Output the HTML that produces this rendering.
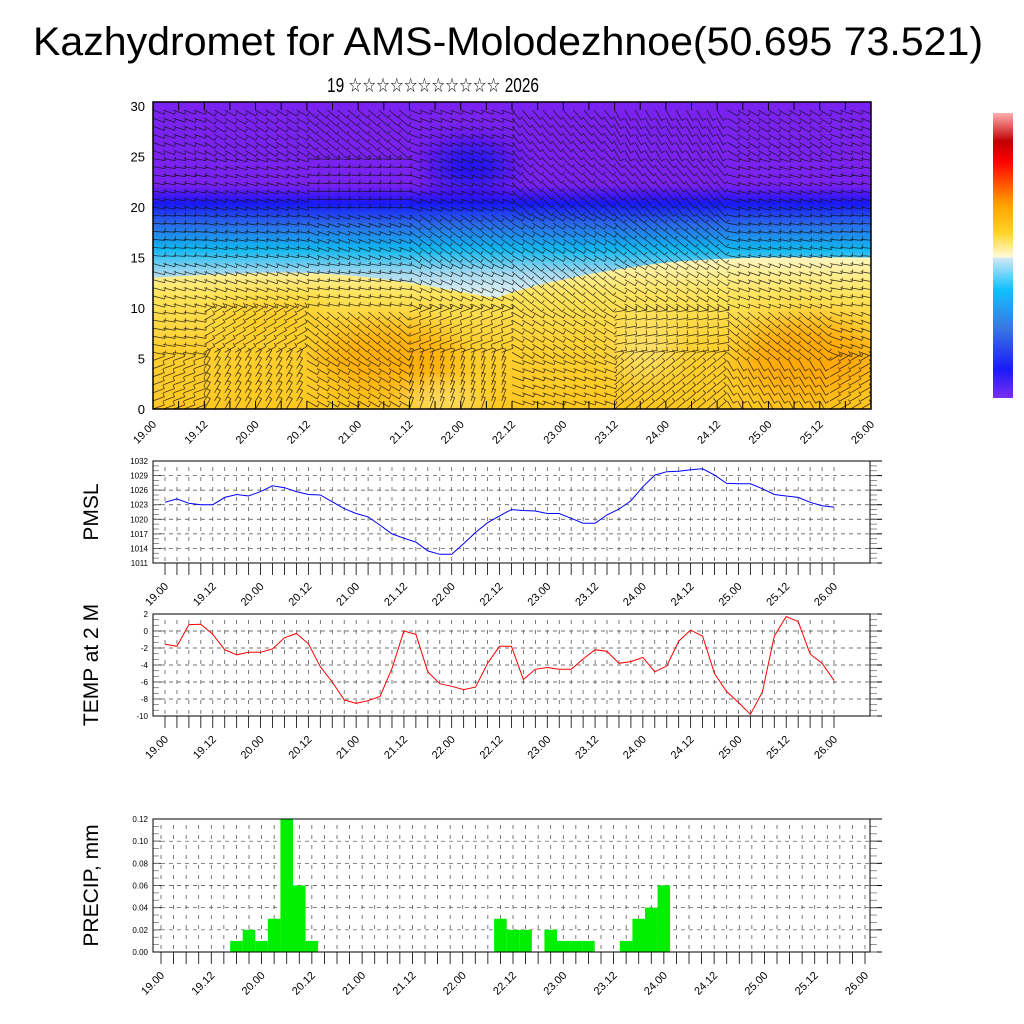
<!DOCTYPE html>
<html><head><meta charset="utf-8"><style>
html,body{margin:0;padding:0;background:#fff;}
svg{display:block;font-family:"Liberation Sans","DejaVu Sans",sans-serif;}
</style></head><body>
<svg id="chart" width="1024" height="1024" viewBox="0 0 1024 1024" xmlns="http://www.w3.org/2000/svg">
<defs>
<linearGradient id="vgrad" x1="0" y1="0" x2="0" y2="1">
<stop offset="0" stop-color="#7a22f0"/><stop offset="0.27" stop-color="#7a22f0"/>
<stop offset="0.30" stop-color="#4a18f8"/><stop offset="0.33" stop-color="#1818f8"/>
<stop offset="0.40" stop-color="#2a6ce8"/><stop offset="0.48" stop-color="#10b8f0"/>
<stop offset="0.56" stop-color="#a8daf0"/><stop offset="0.62" stop-color="#dcefef"/>
<stop offset="1" stop-color="#dcefef"/></linearGradient>
<linearGradient id="wgrad" x1="0" y1="0" x2="0" y2="1">
<stop offset="0" stop-color="#fff6c0"/><stop offset="0.25" stop-color="#ffe45a"/>
<stop offset="0.6" stop-color="#ffd030"/><stop offset="1" stop-color="#ffc820"/></linearGradient>
<linearGradient id="cbgrad" x1="0" y1="1" x2="0" y2="0">
<stop offset="0" stop-color="#7a2ff0"/><stop offset="0.1" stop-color="#1a1af8"/>
<stop offset="0.25" stop-color="#3a7ae0"/><stop offset="0.38" stop-color="#10c0ff"/>
<stop offset="0.49" stop-color="#d0e8f4"/><stop offset="0.495" stop-color="#fffbd8"/>
<stop offset="0.58" stop-color="#ffd428"/><stop offset="0.68" stop-color="#ffa000"/>
<stop offset="0.77" stop-color="#ff4000"/><stop offset="0.83" stop-color="#ff0000"/>
<stop offset="0.9" stop-color="#c00000"/><stop offset="1" stop-color="#ffb0b0"/></linearGradient>
<filter id="blur" x="-50%" y="-50%" width="200%" height="200%"><feGaussianBlur stdDeviation="14"/></filter>
<clipPath id="topclip"><rect x="153" y="102" width="718" height="307"/></clipPath>
</defs>
<text x="33" y="55" font-size="40" textLength="950" lengthAdjust="spacingAndGlyphs">Kazhydromet for AMS-Molodezhnoe(50.695 73.521)</text>
<text x="327" y="92" font-size="20" textLength="212" lengthAdjust="spacingAndGlyphs">19 ☆☆☆☆☆☆☆☆☆☆☆ 2026</text>
<g id="topsec"></g>
<rect x="993" y="113" width="20" height="285" fill="url(#cbgrad)"/>
<g id="panels"></g>
</svg>
<script>
const NS="http://www.w3.org/2000/svg";
const svg=document.getElementById('chart');
const pmslValues=[1023.5,1024.2,1023.3,1023,1023,1024.5,1025.1,1024.8,1025.7,1026.9,1026.5,1025.7,1025.1,1025,1023.6,1022.2,1021.2,1020.5,1018.8,1017,1016.1,1015.3,1013.5,1012.8,1012.8,1015,1017.3,1019.3,1020.7,1022,1021.8,1021.7,1021.2,1021.2,1020.2,1019.2,1019.2,1020.9,1022.1,1023.8,1026.7,1029.1,1029.8,1029.9,1030.2,1030.4,1029.1,1027.4,1027.3,1027.3,1026.3,1025.1,1024.8,1024.5,1023.5,1022.8,1022.5];
const tempValues=[-1.55,-1.8,0.75,0.8,-0.4,-2.2,-2.8,-2.5,-2.5,-2.1,-0.8,-0.3,-1.5,-4.2,-6,-8.1,-8.5,-8.2,-7.7,-4.4,0,-0.4,-4.8,-6.2,-6.5,-6.9,-6.6,-3.8,-1.8,-1.8,-5.7,-4.5,-4.3,-4.5,-4.5,-3.3,-2.2,-2.4,-3.8,-3.6,-3.1,-4.8,-4.1,-1.2,0.1,-0.6,-5,-7.1,-8.4,-9.8,-7.2,-0.6,1.7,1.1,-2.7,-3.8,-5.8];
const precipValues=[0,0,0,0,0,0,0.01,0.02,0.01,0.03,0.12,0.06,0.01,0,0,0,0,0,0,0,0,0,0,0,0,0,0,0.03,0.02,0.02,0,0.02,0.01,0.01,0.01,0,0,0.01,0.03,0.04,0.06,0,0,0,0,0,0,0,0,0,0,0,0,0,0,0,0];
const timeLabels=["19.00","19.12","20.00","20.12","21.00","21.12","22.00","22.12","23.00","23.12","24.00","24.12","25.00","25.12","26.00"];
const pmslTicks=[1011,1014,1017,1020,1023,1026,1029,1032];
const tempTicks=[-10,-8,-6,-4,-2,0,2];
const precipTicks=[0,0.02,0.04,0.06,0.08,0.1,0.12];
const heightTicks=[0,5,10,15,20,25,30];
// wind direction (deg) by height band (rows 0..30 km, step 5) x day (19..26)
const windDir=[[20,60,-30,70,-20,40,-60,30],[-10,30,-40,20,-30,10,-40,-20],[-15,-20,-10,-25,-40,-30,-20,-10],[-5,-10,-20,-35,-30,-40,-10,-5],[-10,-15,-5,-20,-45,-50,-15,-10],[-20,-30,-40,-20,-50,-60,-30,-20],[-60,-55,-50,-65,-60,-55,-50,-60]];

function mk(tag,attrs,parent){const e=document.createElementNS(NS,tag);for(const k in attrs)e.setAttribute(k,attrs[k]);(parent||svg).appendChild(e);return e;}

// ---- top section ----
const topG=document.getElementById('topsec');
const TX0=153,TX1=871,TY0=102,TY1=409;
const hy=h=>TY1-(h/30.4)*(TY1-TY0);
const tdx=d=>TX0+d/7*(TX1-TX0);
const tg=mk('g',{'clip-path':'url(#topclip)'},topG);
mk('rect',{x:TX0,y:TY0,width:TX1-TX0,height:TY1-TY0,fill:'url(#vgrad)'},tg);
mk('path',{d:`M${TX0},${hy(13)} C${tdx(1)},${hy(13.5)} ${tdx(1.5)},${hy(14)} ${tdx(2.5)},${hy(12.5)} C${tdx(2.8)},${hy(12)} ${tdx(3.3)},${hy(11)} ${tdx(3.35)},${hy(11)} C${tdx(3.6)},${hy(12)} ${tdx(4.2)},${hy(13.5)} ${tdx(5)},${hy(14.5)} C${tdx(5.8)},${hy(15.2)} ${tdx(6.5)},${hy(15)} ${TX1},${hy(15)} L${TX1},${TY1} L${TX0},${TY1} Z`,fill:'url(#wgrad)'},tg);
const blobs=[[2.3,5,70,35,'#ffa800',0.8],[6.4,5,70,40,'#ffa000',0.8],[1.2,9,60,20,'#ffc000',0.5],[3.1,24,40,22,'#0010f0',0.8],[2.8,1,40,12,'#fff8c0',0.6],[4.8,6,30,30,'#fff0a0',0.5]];
blobs.forEach(b=>{mk('ellipse',{cx:tdx(b[0]),cy:hy(b[1]),rx:b[2],ry:b[3],fill:b[4],opacity:b[5],filter:'url(#blur)'},tg);});
const barbs=mk('g',{stroke:'#111','stroke-width':'0.8','stroke-opacity':'0.8',fill:'none'},tg);
let dstr='';
for(let gy=0;gy<=30.4;gy+=0.8){for(let gx=0;gx<=7;gx+=0.1){
 const r=Math.min(6,Math.floor(gy/5)),c=Math.min(7,Math.round(gx));
 const a=windDir[r][c]*Math.PI/180;
 const x=tdx(gx),y=hy(gy),L=12;
 const x2=x+L*Math.cos(a),y2=y-L*Math.sin(a);
 dstr+=`M${x.toFixed(1)},${y.toFixed(1)} L${x2.toFixed(1)},${y2.toFixed(1)} l${(4*Math.cos(a+1.6)).toFixed(1)},${(-4*Math.sin(a+1.6)).toFixed(1)} `;
}}
mk('path',{d:dstr},barbs);
for(let i=0;i<=28;i++){const x=tdx(i/4);mk('line',{x1:x,x2:x,y1:TY0,y2:TY0+8,stroke:'#000','stroke-width':'1'},topG);mk('line',{x1:x,x2:x,y1:TY1,y2:TY1-8,stroke:'#000','stroke-width':'1'},topG);}
mk('rect',{x:TX0,y:TY0,width:TX1-TX0,height:TY1-TY0,fill:'none',stroke:'#000','stroke-width':'1.5'},topG);
heightTicks.forEach(h=>{const t=mk('text',{x:TX0-8,y:hy(h)+5,'font-size':'13','text-anchor':'end'},topG);t.textContent=h;
 
 });
timeLabels.forEach((l,i)=>{const x=tdx(i*0.5);const t=mk('text',{x:x+4,y:TY1+16,'font-size':'11','text-anchor':'end',transform:`rotate(-45 ${x+4} ${TY1+16})`},topG);t.textContent=l;
 
 });

// ---- line/bar panels ----
function panel(o){
 const g=mk('g',{},document.getElementById('panels'));
 
 
 const {x0,x1,y0,y1,t0,t1,ymin,ymax}=o;
 const xs=i=>t0+i*(t1-t0)/56, ys=v=>y1-(v-ymin)/(ymax-ymin)*(y1-y0);
 for(let i=0;i<=56;i++){mk('line',{x1:xs(i),x2:xs(i),y1:y0+6,y2:y1,stroke:'#444','stroke-width':'0.7','stroke-dasharray':'4,6'},g);
  mk('line',{x1:xs(i),x2:xs(i),y1:y1,y2:y1+12,stroke:'#000','stroke-width':'0.8'},g);}
 o.ticks.forEach(v=>{mk('line',{x1:x0,x2:x1,y1:ys(v),y2:ys(v),stroke:'#444','stroke-width':'0.7','stroke-dasharray':'4,4'},g);
  mk('line',{x1:x1,x2:x1+12,y1:ys(v),y2:ys(v),stroke:'#000','stroke-width':'1'},g);
  mk('line',{x1:x0,x2:x0+8,y1:ys(v),y2:ys(v),stroke:'#000','stroke-width':'0.8'},g);
  const t=mk('text',{x:x0-5,y:ys(v)+3,'font-size':'8','text-anchor':'end'},g);t.textContent=o.fmt(v);
  
  });
 const step=(ys(o.ticks[0])-ys(o.ticks[1]))/3;
 for(let y=ys(o.ticks[0]);y>y0;y-=step){mk('line',{x1:x1,x2:x1+7,y1:y,y2:y,stroke:'#777','stroke-width':'0.8'},g);mk('line',{x1:x0,x2:x0+6,y1:y,y2:y,stroke:'#777','stroke-width':'0.8'},g);}
 if(o.bars){o.bars.forEach((v,i)=>{if(v>0){const w=(t1-t0)/56;const r=mk('rect',{x:xs(i)-w/2,y:ys(v),width:w,height:y1-ys(v),fill:'#00ee00'},g);
  
  }});}
 if(o.line){const p=mk('polyline',{points:o.line.map((v,i)=>xs(i).toFixed(1)+','+ys(v).toFixed(1)).join(' '),fill:'none',stroke:o.color,'stroke-width':'1'},g);
  
  }
 mk('rect',{x:x0,y:y0,width:x1-x0,height:y1-y0,fill:'none',stroke:'#000','stroke-width':'1'},g);
 timeLabels.forEach((l,k)=>{const x=xs(k*4);const t=mk('text',{x:x+4,y:y1+24,'font-size':'11','text-anchor':'end',transform:`rotate(-45 ${x+4} ${y1+24})`},g);t.textContent=l;
  
  });
 const cy=(y0+y1)/2;const t=mk('text',{x:98,y:cy,'font-size':'21','text-anchor':'middle',transform:`rotate(-90 98 ${cy})`},g);t.textContent=o.title;
 
 
}
panel({name:'pmsl-panel',title:'PMSL',x0:153,x1:870,y0:461,y1:563,t0:165,t1:834,ymin:1011,ymax:1032,ticks:pmslTicks,fmt:v=>v,line:pmslValues,color:'#0000ff'});
panel({name:'temp-panel',title:'TEMP at 2 M',x0:153,x1:870,y0:614,y1:716,t0:165,t1:834,ymin:-10,ymax:2,ticks:tempTicks,fmt:v=>v,line:tempValues,color:'#ff0000'});
panel({name:'precip-panel',title:'PRECIP, mm',x0:153,x1:870,y0:819,y1:952,t0:161,t1:865,ymin:0,ymax:0.12,ticks:precipTicks,fmt:v=>v.toFixed(2),bars:precipValues});
</script>
</body></html>
